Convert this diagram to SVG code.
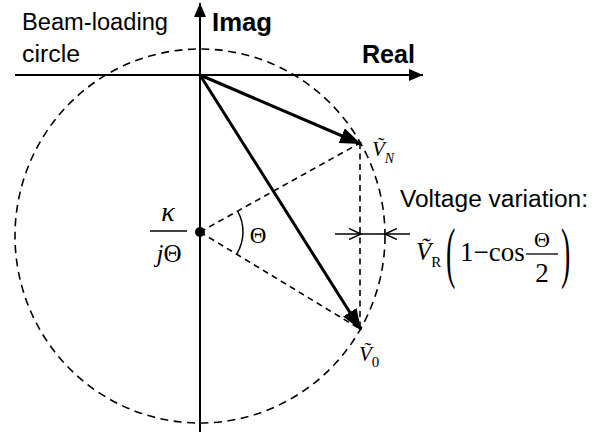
<svg xmlns="http://www.w3.org/2000/svg" width="614" height="435" viewBox="0 0 614 435">
<style>
.ax{stroke:#000;stroke-width:2;fill:none}
.vec{stroke:#000;stroke-width:3;fill:none}
.dash{stroke:#000;stroke-width:1.6;fill:none;stroke-dasharray:6 4.5}
.circ{stroke:#000;stroke-width:1.6;fill:none;stroke-dasharray:8 5.5}
.sans{font-family:"Liberation Sans",Arial,sans-serif;fill:#000}
.bold{font-family:"Liberation Sans",Arial,sans-serif;font-weight:bold;fill:#000}
.math{font-family:"Liberation Serif","Times New Roman",serif;fill:#000}
.it{font-style:italic}
</style>
<defs>
<marker id="axh" markerUnits="userSpaceOnUse" markerWidth="16" markerHeight="12" refX="14" refY="6" orient="auto">
<path d="M0,0 L14,6 L0,12 Z" fill="#000"/>
</marker>
<marker id="vech" markerUnits="userSpaceOnUse" markerWidth="24" markerHeight="18" refX="21" refY="8" orient="auto">
<path d="M0,0 L21,8 L0,16 Z" fill="#000"/>
</marker>
<marker id="openh" markerUnits="userSpaceOnUse" markerWidth="14" markerHeight="12" refX="12" refY="6" orient="auto">
<path d="M0,0.5 L12,6 L0,11.5" fill="none" stroke="#000" stroke-width="1.5"/>
</marker>
</defs>

<g id="circle">
<ellipse class="circ" cx="200" cy="236" rx="185" ry="187"/>
</g>

<g id="axes">
<line class="ax" x1="15" y1="75" x2="423" y2="75" marker-end="url(#axh)"/>
<line class="ax" x1="200" y1="432" x2="200" y2="3" marker-end="url(#axh)"/>
</g>

<g id="connectors">
<line class="dash" x1="200" y1="232" x2="360" y2="143"/>
<line class="dash" x1="200" y1="232" x2="360" y2="329"/>
<line class="dash" x1="360" y1="143" x2="360" y2="329"/>
<line class="vec" x1="200" y1="75" x2="361" y2="144" marker-end="url(#vech)"/>
<line class="vec" x1="200" y1="75" x2="361" y2="330" marker-end="url(#vech)"/>
<path d="M237.6,211 A43,43 0 0 1 236.8,254" fill="none" stroke="#000" stroke-width="1.5"/>
<line x1="335" y1="234" x2="361" y2="234" stroke="#000" stroke-width="1.5" marker-end="url(#openh)"/>
<line x1="410" y1="234" x2="385" y2="234" stroke="#000" stroke-width="1.5" marker-end="url(#openh)"/>
<line x1="360" y1="234" x2="386" y2="234" stroke="#000" stroke-width="1.5"/>
</g>

<g id="center">
<circle cx="200" cy="232" r="5" fill="#000"/>
<text class="math it" x="168" y="221" font-size="28" text-anchor="middle">κ</text>
<line x1="150" y1="231" x2="187" y2="231" stroke="#000" stroke-width="1.3"/>
<text class="math" x="169" y="262" font-size="25" text-anchor="middle"><tspan font-style="italic">j</tspan>Θ</text>
<text class="math" x="258" y="243" font-size="23" text-anchor="middle">Θ</text>
</g>

<g id="labels">
<text class="sans" x="22" y="30" font-size="23" textLength="146" lengthAdjust="spacingAndGlyphs">Beam-loading</text>
<text class="sans" x="22" y="62" font-size="23" textLength="58" lengthAdjust="spacingAndGlyphs">circle</text>
<text class="bold" x="212" y="31" font-size="25" textLength="60" lengthAdjust="spacingAndGlyphs">Imag</text>
<text class="bold" x="362" y="63" font-size="25" textLength="53" lengthAdjust="spacingAndGlyphs">Real</text>
<text class="sans" x="400" y="207" font-size="23" textLength="188" lengthAdjust="spacingAndGlyphs">Voltage variation:</text>
</g>

<g id="label-VN">
<text class="math it" x="372" y="156" font-size="21">V&#x303;<tspan font-size="14" dy="7">N</tspan></text>
</g>

<g id="label-V0">
<text class="math it" x="359" y="361" font-size="21">V&#x303;<tspan font-size="15" dy="6" font-style="normal">0</tspan></text>
</g>

<g id="formula">
<text class="math it" x="416" y="260" font-size="25">V&#x303;<tspan font-size="15" dy="7" font-style="normal">R</tspan></text>
<text class="math" transform="translate(446,275) scale(1,2.4)" font-size="28">(</text>
<text class="math" x="460" y="261" font-size="27">1−cos</text>
<text class="math" x="542" y="247" font-size="22" text-anchor="middle">Θ</text>
<line x1="526" y1="254" x2="558" y2="254" stroke="#000" stroke-width="1.3"/>
<text class="math" x="542" y="282" font-size="27" text-anchor="middle">2</text>
<text class="math" transform="translate(561,275) scale(1,2.4)" font-size="28">)</text>
</g>
</svg>
